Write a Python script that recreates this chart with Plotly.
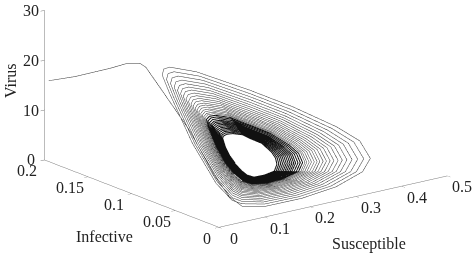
import plotly.graph_objects as go

start_s = [.009,.0096,.001,.001,.002,.002,.004,.0404,.0662,.0605]
start_i = [.2,.17,.125,.105,.092,.085,.07,.055,.04,.02]
start_v = [15.7,18.55,23.44,25.8,26.66,26.34,23.3,14.93,6.36,3.6]
infective_ring = [.08,.08,.075,.07,.06,.05,.04,.03,.02,.015,.012,.012,.015,.04,.055,.07,.08,.08]
s_outer = [
 [.0447,.1033,.2105,.2952,.3717,.4035,.4077,.3715,.2945,.211,.1256,.0736,.0575,.07,.0469,.0254,.0287,.0316],
 [.0544,.1104,.2105,.2904,.3618,.3906,.3934,.358,.2835,.2036,.1227,.0736,.058,.072,.052,.0335,.038,.0413],
 [.0634,.117,.2105,.286,.3525,.3786,.3801,.3454,.2733,.1968,.1201,.0736,.0584,.0739,.0567,.0411,.0467,.0502],
 [.0716,.1231,.2105,.2819,.344,.3676,.3678,.3339,.2638,.1905,.1176,.0736,.0588,.0757,.061,.0481,.0547,.0585],
 [.0792,.1287,.2105,.2782,.3362,.3575,.3566,.3233,.2552,.1847,.1154,.0736,.0591,.0773,.065,.0545,.0621,.0661],
 [.0862,.1337,.2105,.2748,.3291,.3482,.3464,.3136,.2473,.1794,.1133,.0736,.0594,.0787,.0686,.0603,.0687,.073],
 [.0924,.1383,.2105,.2717,.3227,.34,.3372,.3049,.2403,.1747,.1115,.0736,.0597,.08,.0719,.0655,.0747,.0792],
 [.0986,.1429,.2105,.2687,.3164,.3317,.328,.2962,.2332,.1699,.1096,.0736,.06,.0813,.0751,.0708,.0807,.0855],
 [.1041,.1469,.2105,.266,.3107,.3243,.3198,.2885,.2269,.1657,.108,.0736,.0603,.0825,.078,.0754,.0861,.091],
 [.1097,.151,.2105,.2632,.305,.3169,.3116,.2808,.2206,.1615,.1063,.0736,.0606,.0837,.0809,.0801,.0914,.0965],
 [.1145,.1546,.2105,.2609,.3,.3105,.3045,.274,.2151,.1578,.1049,.0736,.0608,.0847,.0835,.0841,.0961,.1013],
 [.1193,.1581,.2105,.2585,.2951,.304,.2973,.2673,.2096,.1541,.1035,.0736,.061,.0857,.086,.0882,.1007,.1062],
 [.1235,.1612,.2105,.2564,.2908,.2985,.2912,.2615,.2049,.151,.1022,.0736,.0612,.0866,.0882,.0917,.1047,.1103],
 [.1276,.1642,.2105,.2544,.2866,.293,.2851,.2557,.2002,.1478,.101,.0736,.0614,.0875,.0903,.0952,.1087,.1145],
 [.1318,.1672,.2105,.2524,.2823,.2875,.2789,.2499,.1955,.1447,.0998,.0736,.0616,.0883,.0925,.0987,.1127,.1186],
 [.1352,.1698,.2105,.2507,.2788,.2828,.2738,.2451,.1915,.142,.0987,.0736,.0618,.0891,.0943,.1016,.1161,.1221],
 [.1387,.1723,.2105,.249,.2752,.2782,.2687,.2403,.1876,.1394,.0977,.0736,.0619,.0898,.0961,.1045,.1194,.1255],
 [.1414,.1743,.2105,.2476,.2724,.2746,.2646,.2364,.1845,.1373,.0969,.0736,.0621,.0904,.0976,.1068,.1221,.1283],
]
v_outer = [
 [25.8,23.66,18.1,13.36,8.45,5.65,2.72,1.45,.7,.48,.83,1.9,3.22,4.69,12.17,21.65,24.5,25.67],
 [24.67,22.63,17.42,12.95,8.3,5.67,2.93,1.74,1.09,.93,1.33,2.39,3.73,5.04,12.01,20.85,23.45,24.56],
 [23.62,21.67,16.8,12.56,8.16,5.69,3.13,2,1.45,1.34,1.79,2.85,4.21,5.37,11.86,20.1,22.48,23.52],
 [22.64,20.79,16.22,12.21,8.03,5.71,3.31,2.25,1.79,1.72,2.21,3.27,4.65,5.67,11.72,19.42,21.58,22.57],
 [21.76,19.98,15.69,11.88,7.91,5.73,3.48,2.47,2.09,2.07,2.6,3.66,5.05,5.95,11.6,18.79,20.76,21.69],
 [20.95,19.24,15.21,11.58,7.8,5.74,3.63,2.68,2.37,2.39,2.95,4.01,5.42,6.2,11.48,18.22,20.01,20.9],
 [20.22,18.58,14.77,11.32,7.7,5.76,3.77,2.86,2.63,2.68,3.27,4.33,5.75,6.43,11.38,17.7,19.33,20.18],
 [19.49,17.92,14.34,11.05,7.6,5.77,3.91,3.05,2.88,2.97,3.59,4.64,6.07,6.65,11.28,17.18,18.66,19.47],
 [18.84,17.33,13.95,10.81,7.52,5.78,4.03,3.21,3.1,3.22,3.87,4.92,6.37,6.85,11.19,16.73,18.06,18.83],
 [18.2,16.74,13.56,10.58,7.43,5.8,4.15,3.38,3.32,3.48,4.16,5.2,6.66,7.05,11.09,16.27,17.46,18.19],
 [17.63,16.22,13.23,10.37,7.35,5.81,4.26,3.52,3.52,3.7,4.41,5.45,6.92,7.23,11.01,15.87,16.94,17.64],
 [17.06,15.71,12.89,10.16,7.28,5.82,4.37,3.66,3.71,3.93,4.65,5.7,7.17,7.41,10.93,15.47,16.41,17.08],
 [16.58,15.26,12.6,9.99,7.21,5.83,4.46,3.79,3.88,4.12,4.87,5.91,7.39,7.56,10.86,15.12,15.96,16.6],
 [16.09,14.82,12.31,9.81,7.15,5.84,4.55,3.91,4.05,4.31,5.08,6.12,7.61,7.71,10.8,14.78,15.51,16.12],
 [15.61,14.38,12.02,9.63,7.08,5.85,4.64,4.03,4.22,4.5,5.29,6.33,7.83,7.86,10.73,14.44,15.06,15.65],
 [15.2,14.01,11.78,9.48,7.03,5.85,4.72,4.14,4.35,4.66,5.47,6.5,8.01,7.98,10.67,14.15,14.69,15.25],
 [14.8,13.64,11.54,9.33,6.97,5.86,4.79,4.24,4.49,4.82,5.64,6.68,8.2,8.11,10.61,13.86,14.31,14.85],
 [14.47,13.35,11.35,9.22,6.93,5.87,4.85,4.32,4.61,4.95,5.79,6.82,8.34,8.21,10.57,13.64,14.01,14.53],
]
s_inner = [
 [.1449,.1769,.2105,.2459,.2688,.27,.2595,.2316,.1805,.1347,.0959,.0736,.0622,.0911,.0994,.1097,.1254,.1317],
 [.1483,.1794,.2105,.2442,.2653,.2654,.2544,.2268,.1766,.132,.0949,.0736,.0624,.0918,.1012,.1126,.1287,.1352],
 [.1518,.182,.2105,.2425,.2617,.2607,.2493,.2219,.1727,.1294,.0938,.0736,.0625,.0926,.103,.1155,.1321,.1386],
 [.1553,.1845,.2105,.2408,.2582,.2561,.2442,.2171,.1687,.1268,.0928,.0736,.0627,.0933,.1048,.1184,.1354,.1421],
 [.158,.1865,.2105,.2394,.2553,.2525,.2401,.2132,.1656,.1247,.092,.0736,.0628,.0939,.1063,.1208,.1381,.1448],
 [.1608,.1886,.2105,.2381,.2525,.2488,.236,.2094,.1625,.1225,.0912,.0736,.063,.0944,.1077,.1231,.1408,.1476],
 [.1636,.1906,.2105,.2367,.2497,.2451,.2319,.2055,.1593,.1204,.0903,.0736,.0631,.095,.1092,.1254,.1434,.1504],
 [.1663,.1926,.2105,.2354,.2468,.2414,.2278,.2017,.1562,.1183,.0895,.0736,.0632,.0956,.1106,.1277,.1461,.1531],
 [.1691,.1946,.2105,.234,.244,.2377,.2237,.1978,.153,.1162,.0887,.0736,.0634,.0962,.1121,.1301,.1488,.1559],
 [.1718,.1967,.2105,.2326,.2412,.234,.2197,.194,.1499,.1141,.0879,.0736,.0635,.0968,.1135,.1324,.1514,.1587],
 [.1746,.1987,.2105,.2313,.2383,.2304,.2156,.1901,.1467,.112,.0871,.0736,.0636,.0974,.115,.1347,.1541,.1614],
 [.1774,.2007,.2105,.2299,.2355,.2267,.2115,.1862,.1436,.1099,.0862,.0736,.0637,.098,.1164,.137,.1568,.1642],
 [.1801,.2028,.2105,.2286,.2326,.223,.2074,.1824,.1404,.1078,.0854,.0736,.0639,.0985,.1179,.1394,.1594,.1669],
 [.1829,.2048,.2105,.2272,.2298,.2193,.2033,.1785,.1373,.1057,.0846,.0736,.064,.0991,.1193,.1417,.1621,.1697],
]
v_inner = [
 [14.07,12.98,11.1,9.07,6.88,5.87,4.93,4.42,4.75,5.11,5.96,7,8.53,8.34,10.51,13.35,13.64,14.14],
 [13.67,12.61,10.86,8.92,6.82,5.88,5.01,4.52,4.88,5.26,6.14,7.17,8.71,8.46,10.45,13.06,13.27,13.74],
 [13.26,12.24,10.62,8.77,6.77,5.89,5.08,4.63,5.02,5.42,6.32,7.35,8.89,8.59,10.4,12.78,12.89,13.34],
 [12.86,11.88,10.38,8.62,6.71,5.9,5.16,4.73,5.16,5.58,6.49,7.52,9.08,8.71,10.34,12.49,12.52,12.94],
 [12.53,11.58,10.19,8.51,6.67,5.9,5.22,4.81,5.28,5.71,6.64,7.66,9.22,8.81,10.29,12.26,12.22,12.62],
 [12.21,11.29,9.99,8.39,6.63,5.91,5.28,4.89,5.39,5.84,6.78,7.81,9.37,8.92,10.25,12.03,11.92,12.31],
 [11.89,10.99,9.8,8.27,6.58,5.92,5.34,4.98,5.5,5.97,6.92,7.95,9.52,9.02,10.2,11.8,11.62,11.99],
 [11.56,10.7,9.61,8.15,6.54,5.92,5.4,5.06,5.61,6.09,7.06,8.09,9.66,9.12,10.15,11.57,11.32,11.67],
 [11.24,10.4,9.42,8.03,6.5,5.93,5.47,5.14,5.72,6.22,7.2,8.23,9.81,9.22,10.11,11.35,11.02,11.35],
 [10.91,10.11,9.22,7.91,6.45,5.94,5.53,5.22,5.83,6.35,7.34,8.37,9.95,9.32,10.06,11.12,10.72,11.03],
 [10.59,9.81,9.03,7.8,6.41,5.94,5.59,5.3,5.95,6.48,7.49,8.51,10.1,9.42,10.02,10.89,10.42,10.71],
 [10.27,9.52,8.84,7.68,6.37,5.95,5.65,5.39,6.06,6.6,7.63,8.65,10.25,9.52,9.97,10.66,10.12,10.4],
 [9.94,9.22,8.64,7.56,6.32,5.95,5.71,5.47,6.17,6.73,7.77,8.79,10.39,9.62,9.93,10.43,9.82,10.08],
 [9.62,8.93,8.45,7.44,6.28,5.96,5.77,5.55,6.28,6.86,7.91,8.93,10.54,9.72,9.88,10.2,9.52,9.76],
]
s_ticks=[0,.1,.2,.3,.4,.5]; s_labels=["0","0.1","0.2","0.3","0.4","0.5"]
i_ticks=[0,.05,.1,.15,.2]; i_labels=["0","0.05","0.1","0.15","0.2"]
v_ticks=[0,10,20,30]; v_labels=["0","10","20","30"]

def order(r):
    return r[11::-1]+r[:11:-1]
s=list(start_s); i=list(start_i); v=list(start_v)
for rs,rv in zip(s_outer,v_outer):
    s+=order(rs); v+=order(rv); i+=order(infective_ring)
si=[];ii=[];vi=[]
for rs,rv in zip(s_inner,v_inner):
    si+=order(rs); vi+=order(rv); ii+=order(infective_ring)

fig=go.Figure()
fig.add_trace(go.Scatter3d(x=s,y=i,z=v,mode="lines",line=dict(color="#333",width=1),showlegend=False))
fig.add_trace(go.Scatter3d(x=si,y=ii,z=vi,mode="lines",line=dict(color="#111",width=2),showlegend=False))
font=dict(family="Liberation Serif",size=16,color="#222")
ax=dict(showbackground=False,showgrid=False,zeroline=False,showline=True,linecolor="#777",linewidth=1,
        ticklen=5,tickcolor="#777",title=dict(text=""),showticklabels=False,showspikes=False)
ann=[]
for t,l in zip(s_ticks,s_labels): ann.append(dict(x=t,y=0,z=0,text=l,showarrow=False,font=font,xshift=15,yshift=-11))
for t,l in zip(i_ticks,i_labels): ann.append(dict(x=0,y=t,z=0,text=l,showarrow=False,font=font,xshift=-18 if l!="0" else -12,yshift=-11))
for t,l in zip(v_ticks,v_labels): ann.append(dict(x=0,y=.2,z=t,text=l,showarrow=False,font=font,xshift=-14,yshift=0))
cx,cy,cz=-.053,.04,-.282
title_common=dict(xref="paper",yref="paper",xanchor="center",yanchor="middle",showarrow=False,font=font)
fig.update_layout(width=475,height=255,margin=dict(l=0,r=0,t=0,b=0),paper_bgcolor="white",
 scene=dict(
  domain=dict(x=[0,1],y=[0,1]),
  xaxis=dict(ax,range=[0,.5],tickvals=s_ticks,ticks="inside"),
  yaxis=dict(ax,range=[0,.2],tickvals=i_ticks,ticks="inside"),
  zaxis=dict(ax,range=[0,30],tickvals=v_ticks,ticks="outside"),
  aspectmode="manual",aspectratio=dict(x=2.254,y=2.254,z=1.228),
  annotations=ann,
  camera=dict(projection=dict(type="orthographic"),eye=dict(x=cx-2.32,y=cy-3.04,z=cz+1.18),center=dict(x=cx,y=cy,z=cz),up=dict(x=0,y=0,z=1)),
 ),
 annotations=[
  dict(title_common,text="Virus",x=.021,y=.686,textangle=-90),
  dict(title_common,text="Infective",x=.221,y=.071),
  dict(title_common,text="Susceptible",x=.777,y=.043),
 ])
fig.write_html("out.html",post_script="document.body.style.margin='0';",config={"displayModeBar":False})
